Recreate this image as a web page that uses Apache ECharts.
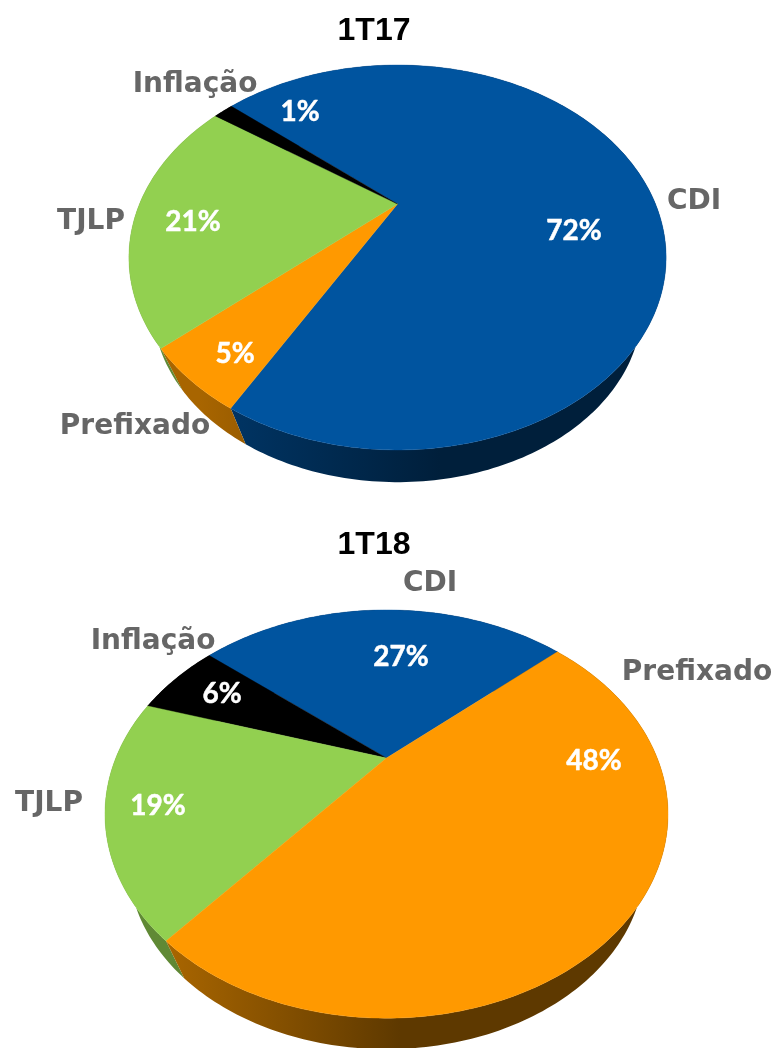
<!DOCTYPE html>
<html>
<head>
<meta charset="utf-8">
<style>html,body{margin:0;padding:0;background:#fff}#c{width:779px;height:1048px}</style>
<script src="https://cdn.jsdelivr.net/npm/echarts@6/dist/echarts.min.js"></script>
</head>
<body>
<div id="c"></div>
<script>
const titles = ['1T17', '1T18'];
const categories17 = ['CDI', 'Prefixado', 'TJLP', 'Inflação'];
const labels17 = [72, 5, 21, 1];
const shares17 = [71.9, 5.3, 21.3, 1.5];
const categories18 = ['CDI', 'Inflação', 'TJLP', 'Prefixado'];
const labels18 = [27, 6, 19, 48];
const shares18 = [27.4, 6.2, 18.7, 47.7];

const colors = { 'CDI': '#00549f', 'Prefixado': '#ff9900', 'TJLP': '#92d050', 'Inflação': '#000000' };
const FONT_CAT = '"DejaVu Sans"', FONT_VAL = 'Lato';

// Layout of each pie: perspective disc
const pies = [
  { cats: categories17, labels: labels17, shares: shares17, clockwise: true, start: 310.5,
    cx: 397.5, cy: 204, a: 258, b: 177.6, k: 0.278, s: 0.91, wallCy: 258.3,
    gradFrom: 200, gradTo: 440,
    catPos: { 'CDI': [694, 202], 'Prefixado': [135, 427], 'TJLP': [91, 222], 'Inflação': [195, 85] },
    valPos: { 'CDI': [574, 231], 'Prefixado': [235, 354], 'TJLP': [193, 222], 'Inflação': [300, 112] } },
  { cats: categories18, labels: labels18, shares: shares18, clockwise: false, start: 48.3,
    cx: 386.5, cy: 758, a: 270.7, b: 188.7, k: 0.2747, s: 0.917, wallCy: 810.6,
    gradFrom: 170, gradTo: 400,
    catPos: { 'CDI': [430, 584], 'Prefixado': [697, 673], 'TJLP': [49, 804], 'Inflação': [153, 642] },
    valPos: { 'CDI': [401, 657], 'Prefixado': [594, 761], 'TJLP': [158, 806], 'Inflação': [222, 694] } }
];

function rim(p, deg, wall) {
  const t = deg * Math.PI / 180, x = Math.sin(t), y = Math.cos(t), w = 1 + p.k * y;
  const sc = wall ? p.s : 1, cy = wall ? p.wallCy : p.cy;
  return [p.cx + sc * p.a * x / w, cy - sc * p.b * y / w];
}
// start / end angle of slice i, walking from p.start in the drawn direction
function span(p, i) {
  let from = p.start;
  const dir = p.clockwise ? 1 : -1;
  for (let j = 0; j < i; j++) from += dir * p.shares[j] * 3.6;
  return [from, from + dir * p.shares[i] * 3.6];
}
function arc(p, i, wall) {
  const [a0, a1] = span(p, i), n = Math.ceil(Math.abs(a1 - a0)) + 1, pts = [];
  for (let j = 0; j <= n; j++) pts.push(rim(p, a0 + (a1 - a0) * j / n, wall));
  return pts;
}
function shade(hex, f) {
  const v = parseInt(hex.slice(1), 16);
  return 'rgb(' + [(v >> 16) & 255, (v >> 8) & 255, v & 255].map(c => Math.round(c * f)).join(',') + ')';
}

const series = [];
pies.forEach(p => {
  const rows = p.shares.map((s, i) => [s, p.labels[i]]);
  series.push({
    type: 'custom', coordinateSystem: 'none', silent: true, z: 1, data: rows,
    renderItem(params) {
      const i = params.dataIndex, c = colors[p.cats[i]];
      const pts = arc(p, i, false).concat(arc(p, i, true).reverse());
      return { type: 'polygon', shape: { points: pts }, style: {
        fill: { type: 'linear', global: true, x: p.gradFrom, y: 0, x2: p.gradTo, y2: 0,
          colorStops: [{ offset: 0, color: shade(c, 0.66) }, { offset: 1, color: shade(c, 0.37) }] } } };
    }
  });
  series.push({
    type: 'custom', coordinateSystem: 'none', silent: true, z: 2, data: rows,
    renderItem(params) {
      const i = params.dataIndex, cat = p.cats[i], c = colors[cat];
      const pts = [[p.cx, p.cy]].concat(arc(p, i, false));
      return { type: 'polygon', shape: { points: pts }, style: { fill: c, stroke: c, lineWidth: 0.4 } };
    }
  });
  series.push({
    type: 'custom', coordinateSystem: 'none', silent: true, z: 3, data: rows,
    renderItem(params, api) {
      const i = params.dataIndex, cat = p.cats[i];
      return { type: 'group', children: [
        { type: 'text', x: p.catPos[cat][0], y: p.catPos[cat][1], style: {
          text: cat, fill: '#666666', font: 'bold 28px ' + FONT_CAT, align: 'center', verticalAlign: 'middle' } },
        { type: 'text', x: p.valPos[cat][0], y: p.valPos[cat][1], style: {
          text: api.value(1) + '%', fill: '#ffffff', font: 'bold 28px ' + FONT_VAL, align: 'center', verticalAlign: 'middle',
          stroke: '#ffffff', lineWidth: 0.5 } }
      ] };
    }
  });
});

const chart = echarts.init(document.getElementById('c'), null, { renderer: 'canvas' });
chart.setOption({
  animation: false,
  title: titles.map((t, i) => ({
    text: t, left: 369, top: i === 0 ? 10 : 524, textAlign: 'center',
    textStyle: { fontFamily: '"Liberation Sans"', fontWeight: 'bold', fontSize: 32, color: '#000' }
  })),
  series
});
</script>
</body>
</html>
